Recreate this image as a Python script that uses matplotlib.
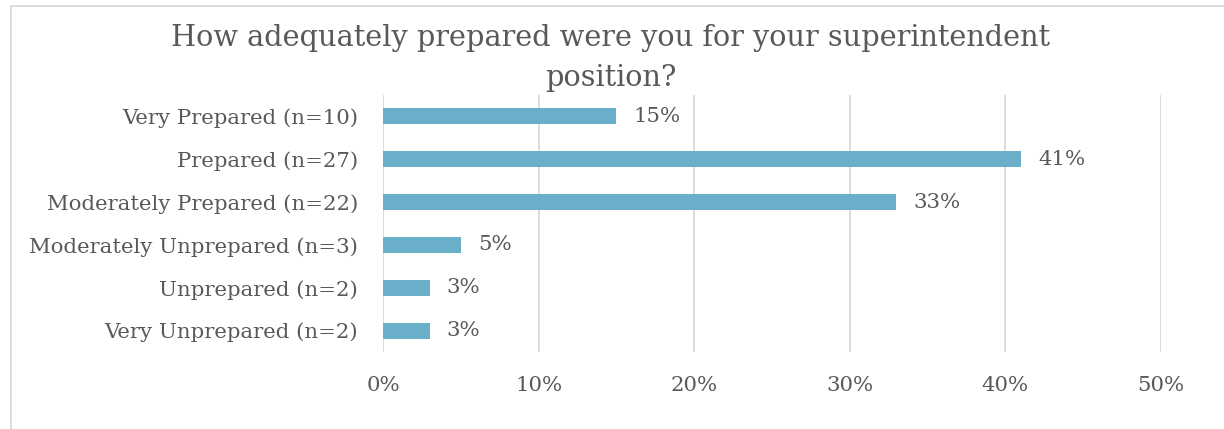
import matplotlib
matplotlib.use("Agg")
import matplotlib.pyplot as plt
from matplotlib.lines import Line2D

categories = ["Very Prepared (n=10)", "Prepared (n=27)", "Moderately Prepared (n=22)",
              "Moderately Unprepared (n=3)", "Unprepared (n=2)", "Very Unprepared (n=2)"]
values = [15, 41, 33, 5, 3, 3]
xticks = [0, 10, 20, 30, 40, 50]

text_color = "#595959"
bar_color = "#6AAFCA"
grid_color = "#D9D9D9"

plt.rcParams['font.family'] = ['DejaVu Serif']

fig = plt.figure(figsize=(12.24, 4.29), dpi=100)
ax = fig.add_axes([0.3129, 0.1795, 0.6356, 0.5991])

ypos = list(range(len(categories)))
ax.barh(ypos, values, height=0.37, color=bar_color, zorder=3)
for y, v in zip(ypos, values):
    ax.text(v + 1.1, y, f"{v}%", va="center", ha="left", fontsize=15.3, color=text_color)

ax.set_xlim(0, 50)
ax.set_ylim(len(categories) - 0.5, -0.5)
ax.set_yticks(ypos)
ax.set_yticklabels(categories)
ax.set_xticks(xticks)
ax.set_xticklabels([f"{t}%" for t in xticks])
ax.tick_params(axis="y", length=0, pad=18, labelsize=15.3, labelcolor=text_color)
ax.tick_params(axis="x", length=0, pad=17, labelsize=15.3, labelcolor=text_color)
ax.grid(axis="x", color=grid_color, linewidth=1.3, zorder=0)
for s in ax.spines.values():
    s.set_visible(False)

fig.text(0.499, 1 - 58 / 429, "How adequately prepared were you for your superintendent\nposition?",
         ha="center", va="center", fontsize=20.7, color=text_color, linespacing=1.55)

# outer frame (top and left edges visible)
fig.add_artist(Line2D([11 / 1224, 1.0], [1 - 6 / 429, 1 - 6 / 429], color="#D9D9D9", lw=1.3))
fig.add_artist(Line2D([11 / 1224, 11 / 1224], [0, 1 - 6 / 429], color="#D9D9D9", lw=1.3))

fig.savefig("out.png", dpi=100)
